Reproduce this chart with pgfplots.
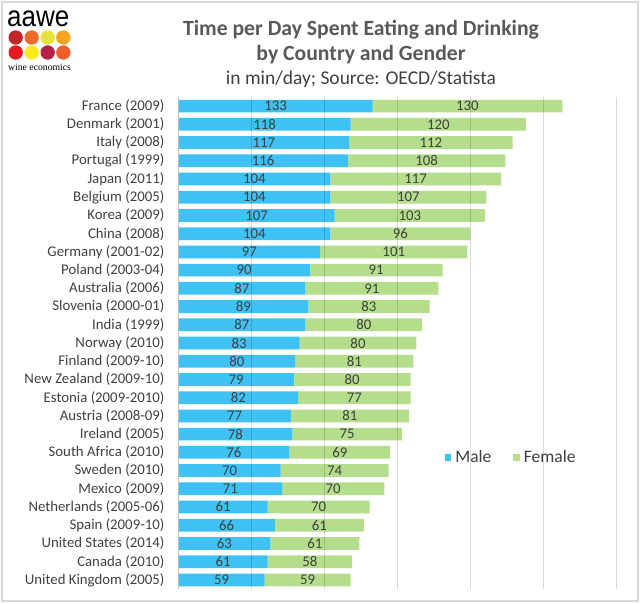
\documentclass[border=0pt]{standalone}
\usepackage{pgfplots}
\pgfplotsset{compat=1.18}
\usepackage{pgfplotstable}
\usepackage{fontspec}
\setmainfont{Carlito}
\newfontfamily\logofont{Liberation Sans}
\newfontfamily\serifl{Liberation Serif}

\definecolor{male}{HTML}{3EC1F3}
\definecolor{female}{HTML}{B4DD8C}
\definecolor{txt}{HTML}{404040}
\definecolor{ttl}{HTML}{595959}

\pgfplotstableread[col sep=comma]{
idx,label,m,f
0,France (2009),133,130
1,Denmark (2001),118,120
2,Italy (2008),117,112
3,Portugal (1999),116,108
4,Japan (2011),104,117
5,Belgium (2005),104,107
6,Korea (2009),107,103
7,China (2008),104,96
8,Germany (2001-02),97,101
9,Poland (2003-04),90,91
10,Australia (2006),87,91
11,Slovenia (2000-01),89,83
12,India (1999),87,80
13,Norway (2010),83,80
14,Finland (2009-10),80,81
15,New Zealand (2009-10),79,80
16,Estonia (2009-2010),82,77
17,Austria (2008-09),77,81
18,Ireland (2005),78,75
19,South Africa (2010),76,69
20,Sweden (2010),70,74
21,Mexico (2009),71,70
22,Netherlands (2005-06),61,70
23,Spain (2009-10),66,61
24,United States (2014),63,61
25,Canada (2010),61,58
26,United Kingdom (2005),59,59
}\data

\begin{document}
\begin{tikzpicture}
\path[use as bounding box] (0pt,0pt) rectangle (640pt,-603pt);
\draw[color=black!15, line width=2pt] (2pt,-2pt) rectangle (638pt,-601pt);
% logo
\node[anchor=west, inner sep=0pt, text=black] at (7pt,-19pt) {\scalebox{1}[1.12]{\logofont\fontsize{26}{28}\selectfont aawe}};
\foreach \cx/\cy/\cc in {15.7/37.5/C0272D, 31.7/37.5/EE6A2A, 47.7/37.5/E8E23A, 63.3/37.5/F6A51E,
                         15.7/52.5/E31B23, 31.7/52.5/FCEB23, 47.7/52.5/B6214A, 63.3/52.5/EF5F30}{
  \definecolor{cc}{HTML}{\cc}
  \fill[cc] (\cx pt,-\cy pt) circle (7.2pt);
}
\node[anchor=west, inner sep=0pt, text=black] at (8pt,-67pt) {\serifl\fontsize{9.7}{11}\selectfont wine economics};
% titles
\node[text=ttl, inner sep=0pt] at (361pt,-30pt) {\fontsize{21.7}{24}\selectfont\bfseries Time per Day Spent Eating and Drinking};
\node[text=ttl, inner sep=0pt] at (361pt,-55pt) {\fontsize{21.7}{24}\selectfont\bfseries by Country and Gender};
\node[text=txt, inner sep=0pt] at (361pt,-79pt) {\fontsize{19.5}{22}\selectfont in min/day; Source: OECD/Statista};
\begin{axis}[
  at={(178.5pt,-589pt)}, anchor=south west,
  scale only axis, width=437.8pt, height=492pt,
  xbar stacked, bar width=12.7pt,
  xmin=0, xmax=300, ymin=-0.5, ymax=26.5, y dir=reverse,
  ytick={0,...,26}, yticklabels from table={\data}{label},
  xtick={0,50,...,300}, xticklabels={},
  major tick length=0pt,
  xmajorgrids, grid style={black, opacity=0.15, line width=0.8pt},
  axis on top,
  axis lines*=left,
  x axis line style={draw=none},
  y axis line style={draw=black!25, line width=1pt},
  tick label style={font=\fontsize{14.8}{16}\selectfont, text=txt},
  yticklabel style={inner sep=0pt, xshift=-14pt},
  /pgf/number format/assume math mode=true,
  nodes near coords, point meta=explicit,
  every node near coord/.append style={font=\fontsize{14.8}{16}\selectfont, text=txt},
  legend image code/.code={\fill[#1] (0pt,-3.5pt) rectangle (6.5pt,3.5pt);},
  legend style={at={(0.601,0.268)}, anchor=west, draw=none, fill=none,
    legend columns=2, font=\fontsize{17.5}{20}\selectfont, text=txt,
    /tikz/every odd column/.append style={column sep=2pt},
    /tikz/every even column/.append style={column sep=20pt}},
]
\addplot[fill=male, draw=none] table[x=m, y=idx, meta=m] {\data};
\addplot[fill=female, draw=none] table[x=f, y=idx, meta=f] {\data};
\legend{Male,Female}
\end{axis}
\end{tikzpicture}
\end{document}
